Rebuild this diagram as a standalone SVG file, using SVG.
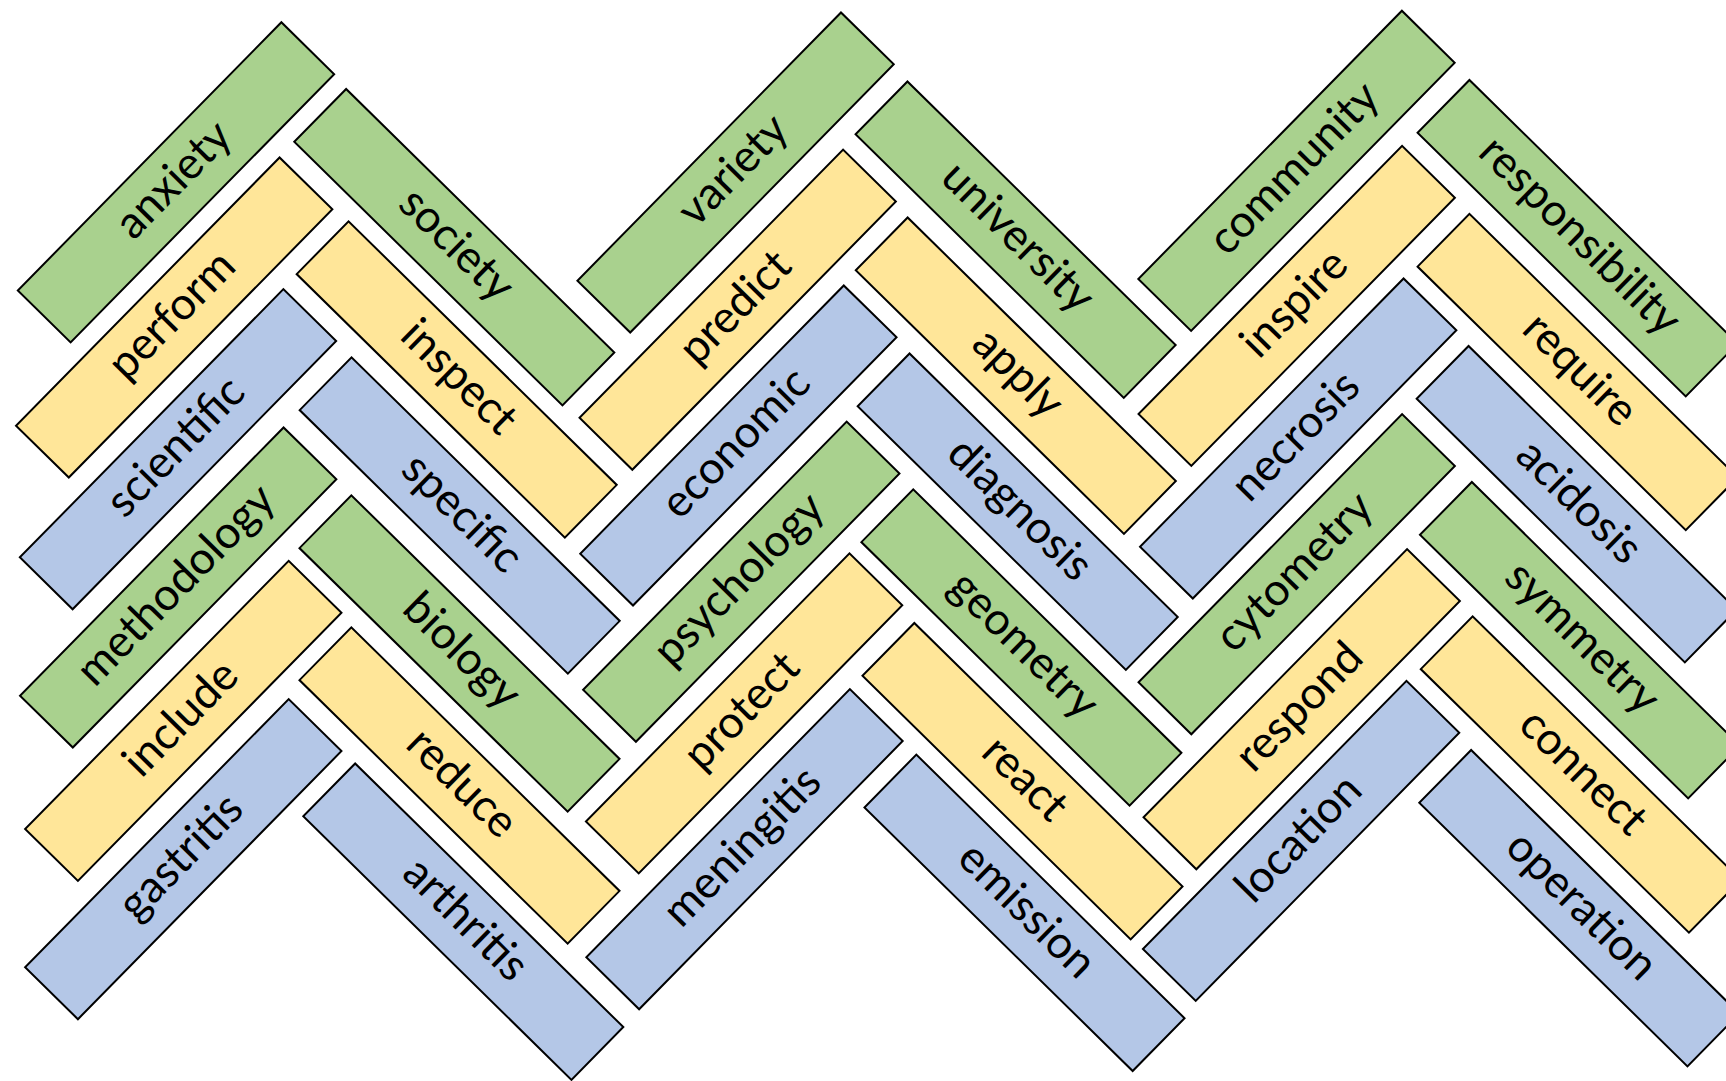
<svg xmlns="http://www.w3.org/2000/svg" width="1726" height="1081" viewBox="0 0 1726 1081">
<style>
use{stroke:#000;stroke-width:2;stroke-linejoin:miter}
.g use{fill:#A9D18E}
.y use{fill:#FFE699}
.b use{fill:#B4C7E7}
text{font-family:Lato,"Open Sans","Liberation Sans",sans-serif;font-size:45px;fill:#000;stroke:none;text-anchor:middle}
</style>
<defs>
<rect id="bar" x="-188" y="-37" width="376" height="74"/>
</defs>
<g id="connectors"/>
<!-- group 1 left -->
<g id="anxiety" class="g" transform="translate(176,182.3) rotate(-45.5)"><use href="#bar"/><text y="11">anxiety</text></g>
<g id="perform" class="y" transform="translate(174.2,317.5) rotate(-45.5)"><use href="#bar"/><text y="11">perform</text></g>
<g id="scientific" class="b" transform="translate(178,449.2) rotate(-45.5)"><use href="#bar"/><text y="11">scientific</text></g>
<g id="methodology" class="g" transform="translate(178.2,587.5) rotate(-45.5)"><use href="#bar"/><text y="11">methodology</text></g>
<g id="include" class="y" transform="translate(183.3,720.9) rotate(-45.5)"><use href="#bar"/><text y="11">include</text></g>
<g id="gastritis" class="b" transform="translate(183.3,859.2) rotate(-45.5)"><use href="#bar"/><text y="11">gastritis</text></g>
<!-- group 1 right -->
<g id="society" class="g" transform="translate(454.3,247.2) rotate(44.5)"><use href="#bar"/><text y="11">society</text></g>
<g id="inspect" class="y" transform="translate(456.7,379.5) rotate(44.5)"><use href="#bar"/><text y="11">inspect</text></g>
<g id="specific" class="b" transform="translate(459.7,515.5) rotate(44.5)"><use href="#bar"/><text y="11">specific</text></g>
<g id="biology" class="g" transform="translate(459.5,653.5) rotate(44.5)"><use href="#bar"/><text y="11">biology</text></g>
<g id="reduce" class="y" transform="translate(459.5,785.5) rotate(44.5)"><use href="#bar"/><text y="11">reduce</text></g>
<g id="arthritis" class="b" transform="translate(463.3,921.7) rotate(44.5)"><use href="#bar"/><text y="11">arthritis</text></g>
<!-- group 2 left -->
<g id="variety" class="g" transform="translate(735.6,172.5) rotate(-45.5)"><use href="#bar"/><text y="11">variety</text></g>
<g id="predict" class="y" transform="translate(737.7,309.7) rotate(-45.5)"><use href="#bar"/><text y="11">predict</text></g>
<g id="economic" class="b" transform="translate(738.4,445.5) rotate(-45.5)"><use href="#bar"/><text y="11">economic</text></g>
<g id="psychology" class="g" transform="translate(741.3,581.7) rotate(-45.5)"><use href="#bar"/><text y="11">psychology</text></g>
<g id="protect" class="y" transform="translate(744.1,713.4) rotate(-45.5)"><use href="#bar"/><text y="11">protect</text></g>
<g id="meningitis" class="b" transform="translate(744.5,849.2) rotate(-45.5)"><use href="#bar"/><text y="11">meningitis</text></g>
<!-- group 2 right -->
<g id="university" class="g" transform="translate(1015.6,239.7) rotate(44.5)"><use href="#bar"/><text y="11">university</text></g>
<g id="apply" class="y" transform="translate(1015.8,375.7) rotate(44.5)"><use href="#bar"/><text y="11">apply</text></g>
<g id="diagnosis" class="b" transform="translate(1017.7,511.7) rotate(44.5)"><use href="#bar"/><text y="11">diagnosis</text></g>
<g id="geometry" class="g" transform="translate(1021.4,647.5) rotate(44.5)"><use href="#bar"/><text y="11">geometry</text></g>
<g id="react" class="y" transform="translate(1022.5,781.2) rotate(44.5)"><use href="#bar"/><text y="11">react</text></g>
<g id="emission" class="b" transform="translate(1024.5,912.8) rotate(44.5)"><use href="#bar"/><text y="11">emission</text></g>
<!-- group 3 left -->
<g id="community" class="g" transform="translate(1296.5,170.8) rotate(-45.5)"><use href="#bar"/><text y="11">community</text></g>
<g id="inspire" class="y" transform="translate(1296.7,305.9) rotate(-45.5)"><use href="#bar"/><text y="11">inspire</text></g>
<g id="necrosis" class="b" transform="translate(1298.2,438.5) rotate(-45.5)"><use href="#bar"/><text y="11">necrosis</text></g>
<g id="cytometry" class="g" transform="translate(1296.7,574.2) rotate(-45.5)"><use href="#bar"/><text y="11">cytometry</text></g>
<g id="respond" class="y" transform="translate(1301.7,709.2) rotate(-45.5)"><use href="#bar"/><text y="11">respond</text></g>
<g id="location" class="b" transform="translate(1301.1,840.9) rotate(-45.5)"><use href="#bar"/><text y="11">location</text></g>
<!-- group 3 right -->
<g id="responsibility" class="g" transform="translate(1577.6,238.2) rotate(44.5)"><use href="#bar"/><text y="11">responsibility</text></g>
<g id="require" class="y" transform="translate(1577.6,372) rotate(44.5)"><use href="#bar"/><text y="11">require</text></g>
<g id="acidosis" class="b" transform="translate(1576.7,504.2) rotate(44.5)"><use href="#bar"/><text y="11">acidosis</text></g>
<g id="symmetry" class="g" transform="translate(1580,640.2) rotate(44.5)"><use href="#bar"/><text y="11">symmetry</text></g>
<g id="connect" class="y" transform="translate(1580.8,774.5) rotate(44.5)"><use href="#bar"/><text y="11">connect</text></g>
<g id="operation" class="b" transform="translate(1579.3,908.2) rotate(44.5)"><use href="#bar"/><text y="11">operation</text></g>
</svg>
